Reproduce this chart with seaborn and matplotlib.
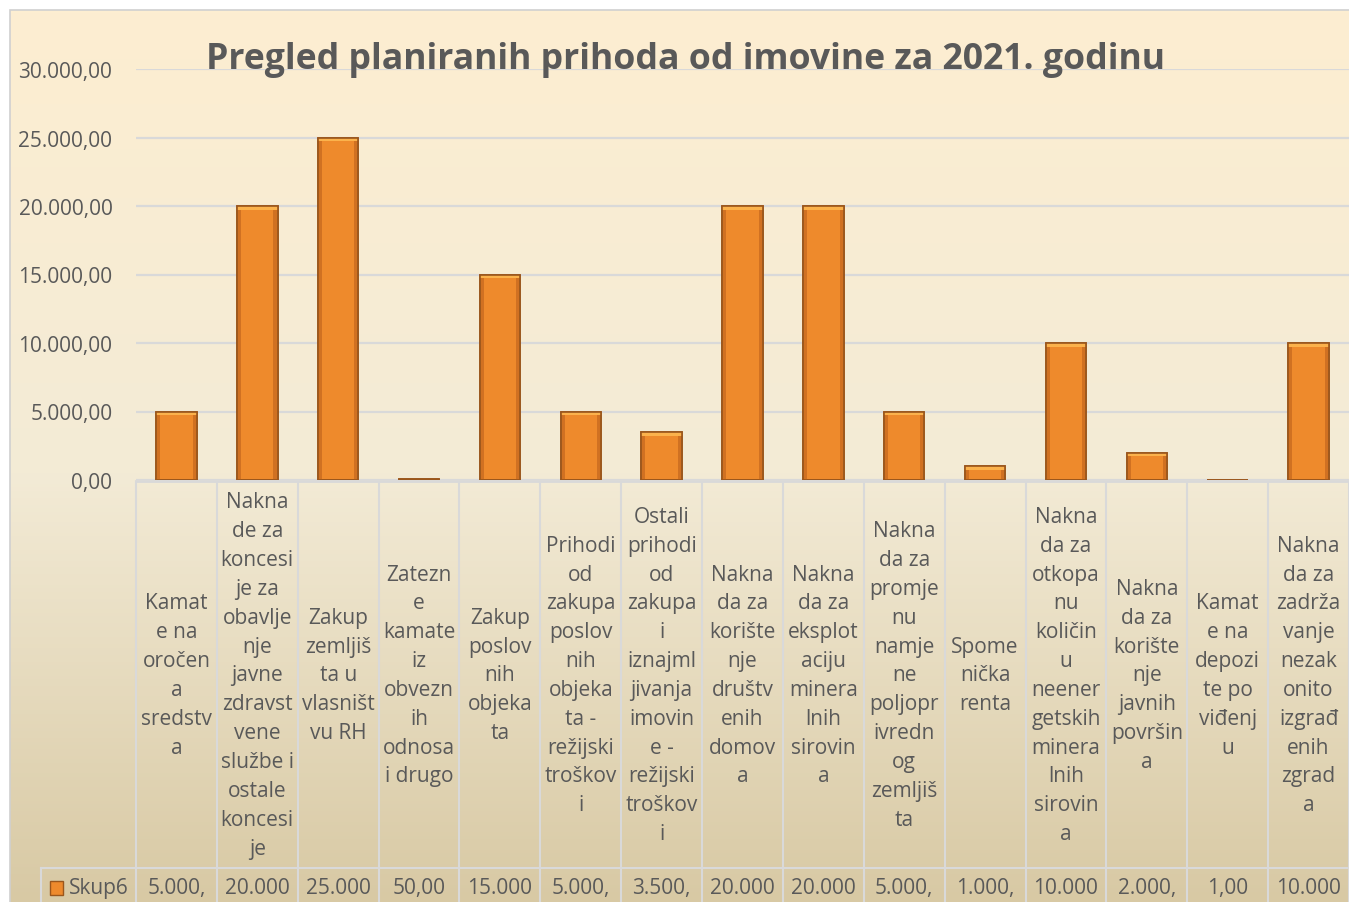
import matplotlib
matplotlib.use("Agg")
import matplotlib.pyplot as plt
import matplotlib.patches as mpatches
from matplotlib.colors import LinearSegmentedColormap
import numpy as np
import pandas as pd
import seaborn as sns

# data (values in kuna, planned for 2021)
categories = [
    "Kamat\ne na\noročen\na\nsredstv\na",
    "Nakna\nde za\nkoncesi\nje za\nobavlje\nnje\njavne\nzdravst\nvene\nslužbe i\nostale\nkoncesi\nje",
    "Zakup\nzemljiš\nta u\nvlasništ\nvu RH",
    "Zatezn\ne\nkamate\niz\nobvezn\nih\nodnosa\ni drugo",
    "Zakup\nposlov\nnih\nobjeka\nta",
    "Prihodi\nod\nzakupa\nposlov\nnih\nobjeka\nta -\nrežijski\ntroškov\ni",
    "Ostali\nprihodi\nod\nzakupa\ni\niznajml\njivanja\nimovin\ne -\nrežijski\ntroškov\ni",
    "Nakna\nda za\nkorište\nnje\ndruštv\nenih\ndomov\na",
    "Nakna\nda za\neksplot\naciju\nminera\nlnih\nsirovin\na",
    "Nakna\nda za\npromje\nnu\nnamje\nne\npoljopr\nivredn\nog\nzemljiš\nta",
    "Spome\nnička\nrenta",
    "Nakna\nda za\notkopa\nnu\nkoličin\nu\nneener\ngetskih\nminera\nlnih\nsirovin\na",
    "Nakna\nda za\nkorište\nnje\njavnih\npovršin\na",
    "Kamat\ne na\ndepozi\nte po\nviđenj\nu",
    "Nakna\nda za\nzadrža\nvanje\nnezak\nonito\nizgrađ\nenih\nzgrad\na",
]
values = [5000, 20000, 25000, 50, 15000, 5000, 3500, 20000, 20000,
          5000, 1000, 10000, 2000, 1, 10000]
series_name = "Skup6"
y_ticks = [0, 5000, 10000, 15000, 20000, 25000, 30000]


def hr_fmt(v):
    s = f"{v:,.2f}"
    return s.replace(",", "X").replace(".", ",").replace("X", ".")


W, H = 1349, 903
plt.rcParams["font.family"] = ["Open Sans", "DejaVu Sans"]
grey_txt = "#595959"
grid_col = "#D9D9D9"
bar_col = "#EE8A2C"
bar_edge = "#9A561C"

fig = plt.figure(figsize=(W / 100, H / 100), dpi=100)
fig.patch.set_facecolor("white")

# chart area background gradient
bg = fig.add_axes([10 / W, 0, 1 - 10 / W, 1 - 11 / H])
bg.set_axis_off()
cmap = LinearSegmentedColormap.from_list(
    "bg", [(0, "#FDEED1"), (0.52, "#F3EBD6"), (1, "#D8C9A4")])
bg.imshow(np.linspace(0, 1, 256).reshape(-1, 1), aspect="auto", cmap=cmap,
          extent=[0, 1, 1, 0])
bg.set_xlim(0, 1)
bg.set_ylim(1, 0)
fig.patches.append(mpatches.Rectangle((10 / W, -0.01), 1, 1 - 11 / H + 0.01,
                                      transform=fig.transFigure, fill=False,
                                      edgecolor="#D0D0D0", lw=1.2))

# main bar axes
df = pd.DataFrame({"Kategorija": range(len(values)), "Iznos": values})
ax = fig.add_axes([136 / W, 1 - 481 / H, (W - 136) / W, (481 - 70) / H])
ax.set_facecolor("none")
sns.barplot(data=df, x="Kategorija", y="Iznos", ax=ax, width=0.5,
            color=bar_col, edgecolor=bar_edge, linewidth=1.2, saturation=1)
# simple bevel: lighter cap and darker sides, taken from each bar's geometry
for p in list(ax.patches):
    x0, w, h = p.get_x(), p.get_width(), p.get_height()
    cap = min(h, 260)
    side = w * 0.1
    ax.add_patch(mpatches.Rectangle((x0, 0), side, h, facecolor="#C96B20",
                                    edgecolor="none", alpha=0.8))
    ax.add_patch(mpatches.Rectangle((x0 + w - side, 0), side, h, facecolor="#C96B20",
                                    edgecolor="none", alpha=0.8))
    ax.add_patch(mpatches.Rectangle((x0, h - cap), w, cap,
                                    facecolor="#FBB24C", edgecolor="none"))
    ax.add_patch(mpatches.Rectangle((x0, 0), w, h, fill=False,
                                    edgecolor=bar_edge, lw=1.2))
ax.set_xlim(-0.5, len(values) - 0.5)
ax.set_ylim(0, 30000)
ax.set_yticks(y_ticks)
ax.set_yticklabels([hr_fmt(v) for v in y_ticks], fontsize=15, color=grey_txt)
ax.tick_params(axis="y", length=0, pad=17)
ax.tick_params(axis="x", length=0, labelbottom=False)
ax.set_xlabel("")
ax.set_ylabel("")
ax.grid(axis="y", color=grid_col, lw=1.6, zorder=0)
ax.set_axisbelow(True)
for s in ax.spines.values():
    s.set_visible(False)

# data table below the plot (y in image pixels)
tab = fig.add_axes([136 / W, 0, (W - 136) / W, (H - 481) / H])
tab.set_facecolor("none")
tab.set_axis_off()
tab.set_xlim(-0.5, len(values) - 0.5)
tab.set_ylim(H, 481)
px = lambda x: -0.5 + (x - 136) / 81.0
for k in range(len(values) + 1):
    tab.plot([k - 0.5, k - 0.5], [483, H], color=grid_col, lw=1.5, clip_on=False)
tab.plot([px(41), len(values) - 0.5], [869, 869], color=grid_col, lw=1.5, clip_on=False)
tab.plot([px(41), px(41)], [869, H], color=grid_col, lw=1.5, clip_on=False)
tab.plot([-0.5, len(values) - 0.5], [482.5, 482.5], color=grid_col, lw=2, clip_on=False)
for i, lab in enumerate(categories):
    tab.text(i, 676, lab, ha="center", va="center", fontsize=15,
             color=grey_txt, linespacing=1.49)
for i, v in enumerate(values):
    tab.text(i, 889, hr_fmt(v)[:6], ha="center", va="center", fontsize=15,
             color=grey_txt)
tab.add_patch(mpatches.Rectangle((px(50), 882), 13 / 81, 14, facecolor=bar_col,
                                 edgecolor=bar_edge, lw=1, clip_on=False))
tab.text(px(69), 889, series_name, ha="left", va="center", fontsize=15,
         color=grey_txt, clip_on=False)

fig.text(685 / W, 1 - 60 / H, "Pregled planiranih prihoda od imovine za 2021. godinu",
         ha="center", va="center", fontsize=25.7, fontweight="bold", color=grey_txt)

fig.savefig("out.png", dpi=100)
